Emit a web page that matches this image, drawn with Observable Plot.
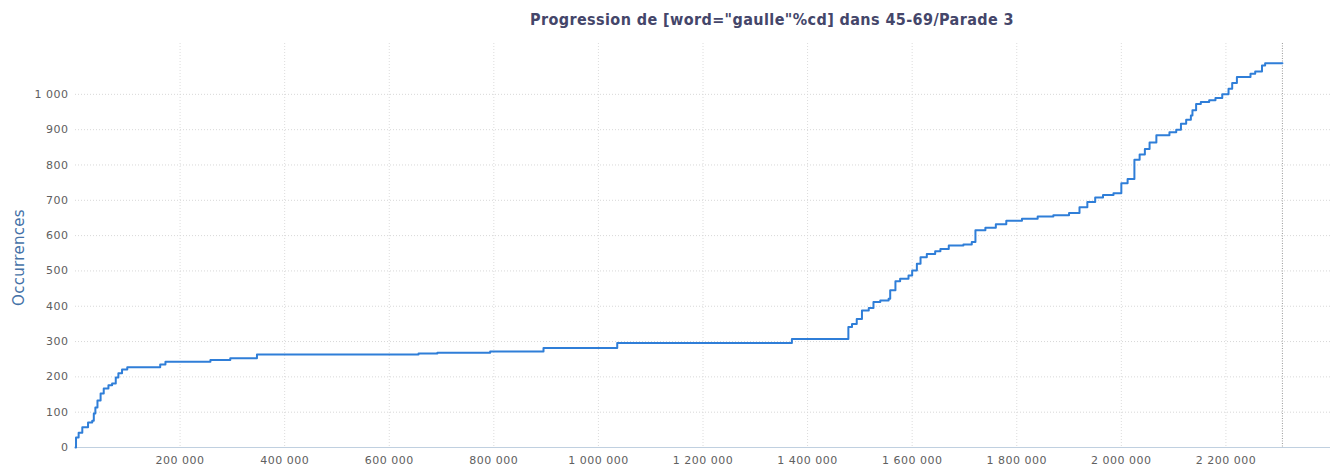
<!DOCTYPE html>
<html>
<head>
<meta charset="utf-8">
<script src="https://cdn.jsdelivr.net/npm/d3@7"></script>
<script src="https://cdn.jsdelivr.net/npm/@observablehq/plot@0.6"></script>
<style>
  html, body { margin: 0; padding: 0; background: #fff; }
  #title { height: 35px; width: 1330px; text-align: center; font-family: "DejaVu Sans Condensed", "DejaVu Sans", sans-serif; font-weight: bold; font-size: 16px; letter-spacing: 0.4px; color: #44466a; line-height: 40px; padding-left: 214px; box-sizing: border-box; }
  #chart svg { display: block; }
</style>
</head>
<body>
<div id="title">Progression de [word="gaulle"%cd] dans 45-69/Parade 3</div>
<div id="chart"></div>
<script>
// Cumulative positions (token offsets) where the count steps up
const positions = [0, 1000, 6000, 13000, 24000, 32000, 35000, 38000, 42000, 48000, 54000, 63000, 70000, 77000, 82000, 89000, 99000,
  162000, 172000, 258000, 296000, 347000, 656000, 692000, 793000, 895000, 1036000, 1370000,
  1478000, 1485000, 1494000, 1504000, 1517000, 1526000, 1539000, 1555000, 1558000, 1568000, 1577000, 1593000, 1600000,
  1609000, 1616000, 1628000, 1644000, 1654000, 1670000, 1698000, 1714000, 1721000, 1740000, 1760000, 1780000, 1810000,
  1840000, 1870000, 1900000, 1920000, 1935000, 1950000, 1965000, 1985000, 2000000, 2012000, 2025000, 2035000, 2045000,
  2054000, 2067000, 2092000, 2105000, 2114000, 2124000, 2133000, 2136000, 2143000, 2152000, 2168000, 2180000, 2193000,
  2205000, 2212000, 2221000, 2247000, 2256000, 2269000, 2275000, 2308000];
const occurrences = [0, 28, 42, 57, 71, 76, 96, 113, 133, 153, 167, 176, 181, 198, 210, 221, 227,
  235, 243, 248, 253, 263, 266, 268, 272, 282, 296, 307,
  341, 350, 364, 388, 395, 412, 416, 421, 445, 471, 478, 487, 501,
  520, 539, 548, 556, 562, 572, 575, 582, 615, 622, 632, 642, 648,
  654, 658, 664, 680, 695, 708, 715, 720, 748, 760, 815, 830, 845,
  864, 884, 893, 900, 917, 928, 940, 955, 973, 978, 983, 990, 1000,
  1016, 1032, 1049, 1058, 1065, 1082, 1088, 1088];
const corpusEnd = [2308000];
const xTicks = [200000, 400000, 600000, 800000, 1000000, 1200000, 1400000, 1600000, 1800000, 2000000, 2200000];
const yTicks = [0, 100, 200, 300, 400, 500, 600, 700, 800, 900, 1000];
const yLabel = "Occurrences";

const data = positions.map((p, i) => ({x: p, y: occurrences[i]}));
const fr = d3.formatLocale({decimal: ",", thousands: " ", grouping: [3], currency: ["", " €"]});
const fmt = fr.format(",d");

const plot = Plot.plot({
  width: 1330,
  height: 431,
  marginLeft: 75,
  marginRight: 0,
  marginTop: 8,
  marginBottom: 19,
  style: {fontFamily: "DejaVu Sans, sans-serif", fontSize: "11px", background: "#fff", overflow: "visible"},
  x: {domain: [0, 2400000]},
  y: {domain: [0, 1144]},
  marks: [
    Plot.gridX(xTicks, {stroke: "#dcdcdc", strokeOpacity: 1, strokeDasharray: "1,2"}),
    Plot.gridY(yTicks.slice(1), {stroke: "#d8d8d8", strokeOpacity: 1, strokeDasharray: "1,2"}),
    Plot.ruleY([0], {stroke: "#C0D0E0"}),
    Plot.ruleX(corpusEnd, {stroke: "#999", strokeDasharray: "1,1.5"}),
    Plot.axisX(xTicks, {tickSize: 0, tickPadding: 9, tickFormat: fmt, fill: "#606060", label: null}),
    Plot.axisY(yTicks, {tickSize: 0, tickPadding: 7, tickFormat: fmt, fill: "#606060", label: yLabel, labelAnchor: "center", labelArrow: "none", labelOffset: 62}),
    Plot.line(data, {x: "x", y: "y", curve: "step-after", stroke: "#2f7ed8", strokeWidth: 2})
  ]
});
document.getElementById("chart").appendChild(plot);
// style axis label
d3.select(plot).selectAll('[aria-label="y-axis label"] text').each(function() {
  const t = d3.select(this);
  t.attr("fill", "#4572A7").style("font-size", "15px").style("letter-spacing", "0.3px");
  const tr = t.attr("transform") || "";
  t.attr("transform", tr + " translate(-12,0)");
});
d3.select(plot).selectAll('[aria-label="x-axis tick label"] text, [aria-label="y-axis tick label"] text').style("letter-spacing", "0.5px");
</script>
</body>
</html>
